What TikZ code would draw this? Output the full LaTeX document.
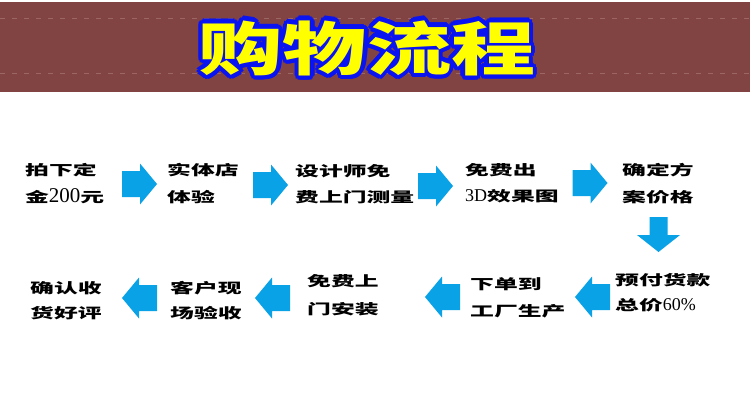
\documentclass[tikz,border=0pt]{standalone}
\usepackage{fontspec}
\usepackage{graphicx}
\newfontfamily\cjk{Noto Sans CJK SC}
\newfontfamily\digitfont{Liberation Serif}
\definecolor{banner}{HTML}{824443}
\definecolor{stitch}{HTML}{9C6664}
\definecolor{arrowblue}{HTML}{0AA2E6}
\definecolor{titleblue}{HTML}{0A14F0}
\definecolor{titleyellow}{HTML}{FFFF00}
\newcommand\cn[1]{\scalebox{1.7}[1]{\cjk\bfseries\fontsize{14}{16}\selectfont #1}}
\newcommand\dg[2][18]{{\digitfont\fontsize{#1}{#1}\selectfont #2}}
\newcommand\titletext{\scalebox{1.45}[1]{\cjk\bfseries\fontsize{58}{60}\selectfont 购物流程}}
\tikzset{
  txt/.style={anchor=west, inner sep=0pt, text=black},
  rarrow/.pic={\fill[arrowblue] (-17.5,-13) -- (0.5,-13) -- (0.5,-20.5) -- (17.5,0)
      -- (0.5,20.5) -- (0.5,13) -- (-17.5,13) -- cycle;},
  darrow/.pic={\fill[arrowblue] (-9,-17.5) -- (9,-17.5) -- (9,0.5) -- (21.5,0.5)
      -- (0,17.5) -- (-21.5,0.5) -- (-9,0.5) -- cycle;},
  stitchline/.style={stitch, line width=1pt, dash pattern=on 5pt off 7pt}
}
\begin{document}
\begin{tikzpicture}[x=1pt,y=-1pt]
\useasboundingbox (0,0) rectangle (750,400);
\fill[white] (0,0) rectangle (750,400);
% banner
\fill[banner] (0,1.5) rectangle (750,92);
\draw[stitchline] (0,18) -- (750,18);
\draw[stitchline] (0,73) -- (750,73);
% title with outline
\foreach \a [count=\i] in {0,22.5,...,337.5}
  \node[inner sep=0pt, text=titleblue, shift={(\a:4.2)}] (titleo\i) at (367,48) {\titletext};
\node[inner sep=0pt, text=titleyellow] (title) at (367,48) {\titletext};

% row 1 texts
\node[txt] (s1a) at (25,170) {\cn{拍下定}};
\node[txt] (s1b) at (25,196) {\cn{金}\dg[21]{200}\cn{元}};
\node[txt] (s2a) at (167,170) {\cn{实体店}};
\node[txt] (s2b) at (167,197) {\cn{体验}};
\node[txt] (s3a) at (295,171) {\cn{设计师免}};
\node[txt] (s3b) at (295,197) {\cn{费上门测量}};
\node[txt] (s4a) at (465,170) {\cn{免费出}};
\node[txt] (s4b) at (465,196) {\dg{3D}\cn{效果图}};
\node[txt] (s5a) at (622,170) {\cn{确定方}};
\node[txt] (s5b) at (622,197) {\cn{案价格}};

% row 2 texts
\node[txt] (s6a) at (615,280) {\cn{预付货款}};
\node[txt] (s6b) at (615,305) {\cn{总价}\dg{60\%}};
\node[txt] (s7a) at (470,284) {\cn{下单到}};
\node[txt] (s7b) at (470,311) {\cn{工厂生产}};
\node[txt] (s8a) at (307,281) {\cn{免费上}};
\node[txt] (s8b) at (307,309) {\cn{门安装}};
\node[txt] (s9a) at (170,288) {\cn{客户现}};
\node[txt] (s9b) at (170,313) {\cn{场验收}};
\node[txt] (s10a) at (30,288) {\cn{确认收}};
\node[txt] (s10b) at (30,313) {\cn{货好评}};

% arrows row 1
\pic (r1) at (139.5,184) {rarrow};
\pic (r2) at (270.5,185) {rarrow};
\pic (r3) at (435.5,186) {rarrow};
\pic (r4) at (590,183) {rarrow};
% down arrow
\pic (d1) at (658.5,234.5) {darrow};
% arrows row 2
\pic[xscale=-1] (l1) at (592.5,297) {rarrow};
\pic[xscale=-1] (l2) at (442.5,297) {rarrow};
\pic[xscale=-1] (l3) at (272.5,298) {rarrow};
\pic[xscale=-1] (l4) at (139.5,298) {rarrow};
\end{tikzpicture}
\end{document}
